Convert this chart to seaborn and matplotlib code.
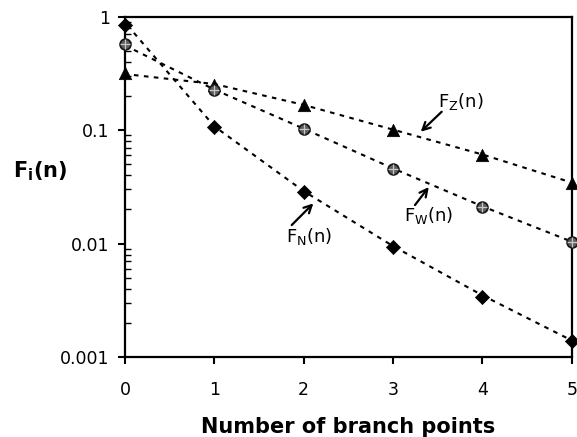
import matplotlib
matplotlib.use("Agg")
import matplotlib.pyplot as plt
import seaborn as sns
import pandas as pd
from matplotlib.ticker import LogLocator, NullFormatter, FixedLocator

# ---- data ----
n_points = [0, 1, 2, 3, 4, 5]
F_N = [0.845, 0.107, 0.0286, 0.0093, 0.0034, 0.00139]
F_W = [0.58, 0.226, 0.103, 0.0451, 0.0211, 0.0104]
F_Z = [0.317, 0.250, 0.166, 0.100, 0.0603, 0.034]

fit_x = [0.1, 1, 2, 3, 4, 5]
fit_N = [0.72, 0.108, 0.029, 0.0095, 0.0035, 0.00140]
fit_W = [0.51, 0.228, 0.103, 0.046, 0.0213, 0.0104]
fit_Z = [0.306, 0.255, 0.167, 0.101, 0.061, 0.0345]

x_ticks = [0, 1, 2, 3, 4, 5]
y_ticks = [0.001, 0.01, 0.1, 1]
y_ticklabels = ["0.001", "0.01", "0.1", "1"]

# annotation labels: (text, text position, arrow tail, arrow head) in data units
labels = [
    (r"$\mathrm{F_Z(n)}$", (3.756, 0.1805), (3.545, 0.1453), (3.31, 0.0968)),
    (r"$\mathrm{F_W(n)}$", (3.40, 0.0178), (3.246, 0.02185), (3.40, 0.0315)),
    (r"$\mathrm{F_N(n)}$", (2.065, 0.01165), (1.866, 0.01456), (2.108, 0.0226)),
]

sns.set_style("ticks")
plt.rcParams["font.family"] = ["DejaVu Sans"]
plt.rcParams["mathtext.fontset"] = "dejavusans"
for key in ["text.color", "axes.labelcolor", "xtick.color", "ytick.color",
            "xtick.labelcolor", "ytick.labelcolor"]:
    plt.rcParams[key] = "black"

fig = plt.figure(figsize=(5.77, 4.37), dpi=100)
ax = fig.add_axes([125 / 577, 1 - 357 / 437, 446.7 / 577, 340.3 / 437])

fits = pd.DataFrame({
    "x": fit_x * 3,
    "y": fit_N + fit_W + fit_Z,
    "s": ["N"] * 6 + ["W"] * 6 + ["Z"] * 6,
})
for s in ["N", "W", "Z"]:
    sub = fits[fits.s == s]
    sns.lineplot(data=sub, x="x", y="y", ax=ax, color="black",
                 linewidth=1.5, linestyle=(0, (2.2, 2.6)), legend=False,
                 clip_on=False)

pts = pd.DataFrame({"n": n_points, "N": F_N, "W": F_W, "Z": F_Z})
sns.scatterplot(data=pts, x="n", y="Z", ax=ax, marker="^", s=80,
                color="black", edgecolor="black", linewidth=0.5, clip_on=False, zorder=5)
sns.scatterplot(data=pts, x="n", y="N", ax=ax, marker="D", s=52,
                color="black", edgecolor="black", linewidth=0.5, clip_on=False, zorder=5)
sns.scatterplot(data=pts, x="n", y="W", ax=ax, marker="o", s=60,
                color="#5e5e5e", edgecolor="#1a1a1a", linewidth=1.3, clip_on=False, zorder=5)
sns.scatterplot(data=pts, x="n", y="W", ax=ax, marker="+", s=42,
                color="#c8c8c8", linewidth=0.9, clip_on=False, zorder=6)

ax.set_yscale("log")
ax.set_xlim(0, 5)
ax.set_ylim(0.001, 1)
ax.xaxis.set_major_locator(FixedLocator(x_ticks))
ax.set_xticklabels([str(t) for t in x_ticks])
ax.yaxis.set_major_locator(FixedLocator(y_ticks))
ax.set_yticklabels(y_ticklabels)
ax.yaxis.set_minor_locator(LogLocator(base=10, subs=range(2, 10)))
ax.yaxis.set_minor_formatter(NullFormatter())

for sp in ax.spines.values():
    sp.set_visible(True)
    sp.set_linewidth(1.6)
    sp.set_color("black")

ax.tick_params(axis="y", which="major", direction="out", length=5, width=1.5,
               labelsize=12.5, pad=6, colors="black")
ax.tick_params(axis="y", which="minor", direction="in", length=4, width=1.0,
               colors="black")
ax.tick_params(axis="x", which="major", direction="out", length=5, width=1.5,
               labelsize=12.5, pad=12, colors="black")

ax.set_xlabel("Number of branch points", fontsize=15, fontweight="bold",
              labelpad=13, color="black")
ax.set_ylabel(r"$\mathbf{F_i(n)}$", fontsize=15, rotation=0, ha="center",
              va="center", color="black")
ax.yaxis.set_label_coords(-0.19, 0.545)

arrowprops = dict(arrowstyle="->,head_length=0.55,head_width=0.28", color="black",
                  lw=1.6, shrinkA=0, shrinkB=0)
for txt, tpos, tail, head in labels:
    ax.text(tpos[0], tpos[1], txt, ha="center", va="center", fontsize=13,
            color="black")
    ax.annotate("", xy=head, xytext=tail, arrowprops=arrowprops,
                annotation_clip=False)

fig.savefig("out.png", dpi=100)
